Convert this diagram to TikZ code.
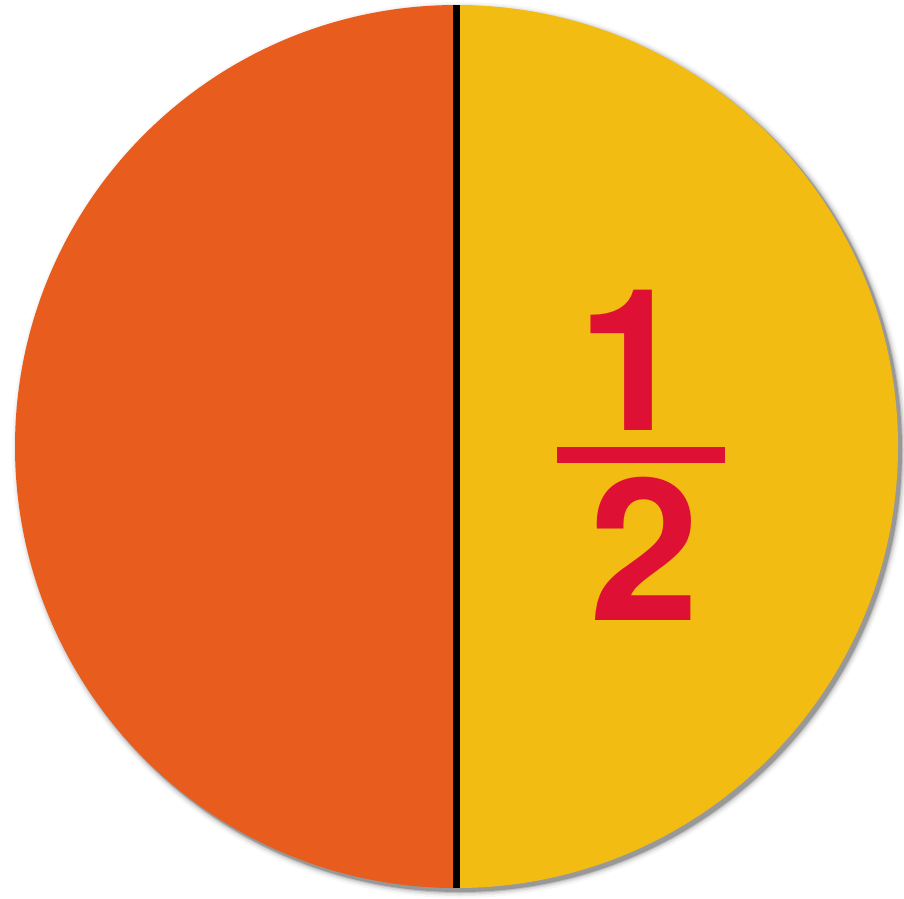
\documentclass[tikz,border=0pt]{standalone}
\usepackage{fontspec}
\newfontfamily\fracfont{TeX Gyre Heros}
\definecolor{halforange}{RGB}{232,92,30}
\definecolor{halfyellow}{RGB}{242,188,18}
\definecolor{fracred}{RGB}{222,16,52}
\tikzset{
  fracdigit/.style={text=fracred, inner sep=0pt, anchor=base, font=\fracfont\fontsize{198}{198}\selectfont\bfseries},
  shadowring/.style={fill=black, opacity=#1}
}
\begin{document}
\begin{tikzpicture}[x=1pt,y=-1pt]
\useasboundingbox (0,0) rectangle (904,898);
\fill[white] (0,0) rectangle (904,898);
% soft shadow
\foreach \r/\o in {448/0.03,446/0.05,444.5/0.07,443/0.12,442/0.2}{
  \fill[shadowring=\o] (460,450) circle (\r);
}
\coordinate (c) at (456.5,446.5);
% halves
\begin{scope}
  \clip (c) circle (441.5);
  \fill[halforange] (0,0) rectangle (456.5,898);
  \fill[halfyellow] (456.5,0) rectangle (904,898);
\end{scope}
% dividing line
\coordinate (top) at (456.5,5);
\coordinate (bot) at (456.5,888);
\draw[black, line width=7pt] (top) -- (bot);
% fraction
\node[fracdigit] (one) at (633,430) {1};
\fill[fracred] (557,447) rectangle (725,463);
\node[fracdigit] (two) at (645,620) {2};
\end{tikzpicture}
\end{document}
